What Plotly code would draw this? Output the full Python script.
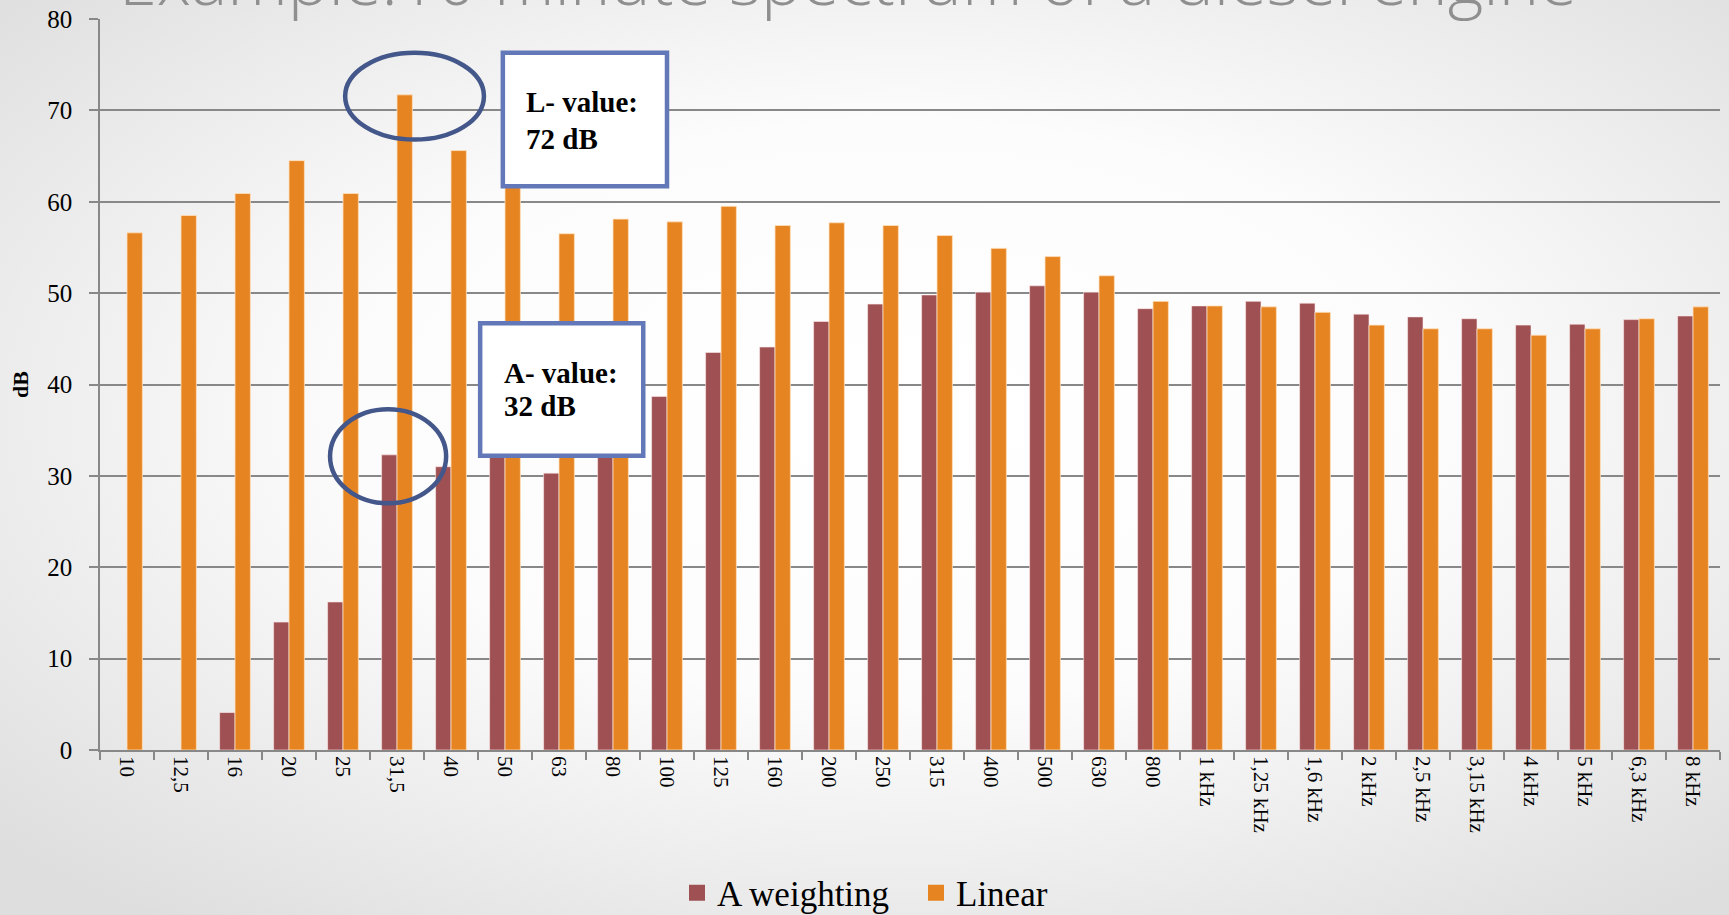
import base64
import plotly.graph_objects as go

categories = ["10", "12,5", "16", "20", "25", "31,5", "40", "50", "63", "80",
              "100", "125", "160", "200", "250", "315", "400", "500", "630", "800",
              "1 kHz", "1,25 kHz", "1,6 kHz", "2 kHz", "2,5 kHz", "3,15 kHz",
              "4 kHz", "5 kHz", "6,3 kHz", "8 kHz"]

a_weighting = [None, None, 4.1, 14.0, 16.2, 32.3, 31.0, 33.5, 30.3, 34.5,
               38.7, 43.5, 44.1, 46.9, 48.8, 49.8, 50.1, 50.8, 50.1, 48.3,
               48.6, 49.1, 48.9, 47.7, 47.4, 47.2, 46.5, 46.6, 47.1, 47.5]

linear = [56.6, 58.5, 60.9, 64.5, 60.9, 71.7, 65.6, 63.0, 56.5, 58.1,
          57.8, 59.5, 57.4, 57.7, 57.4, 56.3, 54.9, 54.0, 51.9, 49.1,
          48.6, 48.5, 47.9, 46.5, 46.1, 46.1, 45.4, 46.1, 47.2, 48.5]

y_ticks = [0, 10, 20, 30, 40, 50, 60, 70, 80]

title_text = "Example:10 minute spectrum of a diesel engine"
l_lines = ["<b>L- value:</b>", "<b>72 dB</b>"]
a_lines = ["<b>A- value:</b>", "<b>32 dB</b>"]

W, H = 1729, 915
ML, MR, MT, MB = 100, 9, 19, 165
PW, PH = W - ML - MR, H - MT - MB

SERIF = "Liberation Serif, Times New Roman, serif"
RED = "#9e5053"
ORANGE = "#e68422"

svg = ('<svg xmlns="http://www.w3.org/2000/svg" width="1729" height="915" '
       'preserveAspectRatio="none"><defs><radialGradient id="g" cx="52%" cy="45%" r="70%">'
       '<stop offset="0" stop-color="#ffffff"/><stop offset="0.45" stop-color="#fcfcfc"/>'
       '<stop offset="1" stop-color="#dedede"/></radialGradient></defs>'
       '<rect width="1729" height="915" fill="url(#g)"/></svg>')
bg_src = "data:image/svg+xml;base64," + base64.b64encode(svg.encode()).decode()

fig = go.Figure()
fig.add_trace(go.Bar(x=categories, y=a_weighting, name="A weighting", showlegend=False,
                     marker=dict(color=RED, line=dict(color="rgba(255,235,235,0.6)", width=1))))
fig.add_trace(go.Bar(x=categories, y=linear, name="Linear", showlegend=False,
                     marker=dict(color=ORANGE, line=dict(color="rgba(255,225,190,0.8)", width=1))))
# legend entries with larger square swatches
fig.add_trace(go.Scatter(x=[None], y=[None], mode="markers", name="A weighting",
                         marker=dict(symbol="square", size=20, color=RED)))
fig.add_trace(go.Scatter(x=[None], y=[None], mode="markers", name="Linear",
                         marker=dict(symbol="square", size=20, color=ORANGE)))

line_col = "#888888"
fig.update_layout(
    width=W, height=H,
    margin=dict(l=ML, r=MR, t=MT, b=MB, autoexpand=False),
    paper_bgcolor="#f2f2f2",
    plot_bgcolor="rgba(0,0,0,0)",
    barmode="group", bargap=0.43, bargroupgap=0,
    font=dict(family=SERIF, color="#000000"),
    xaxis=dict(type="category", tickangle=90, ticks="outside", tickson="boundaries",
               ticklen=8, tickcolor=line_col, tickwidth=1.5,
               showline=True, linecolor=line_col, linewidth=1.5,
               showgrid=False, tickfont=dict(family=SERIF, size=21, color="#000")),
    yaxis=dict(range=[0, 80], tickvals=y_ticks, ticks="outside", ticklen=9,
               tickcolor=line_col, tickwidth=1.5, showline=True, linecolor=line_col,
               linewidth=1.5, showgrid=True, gridcolor=line_col, gridwidth=1.8,
               zeroline=False, ticklabelstandoff=12,
               tickfont=dict(family=SERIF, size=25, color="#000"),
               title=dict(text="<b>dB</b>", standoff=13,
                          font=dict(family=SERIF, size=22, color="#000"))),
    legend=dict(orientation="h", x=(677 - ML) / PW, xanchor="left",
                y=(750 - 893) / PH, yanchor="middle", itemsizing="trace",
                entrywidth=194, entrywidthmode="pixels",
                font=dict(family=SERIF, size=35, color="#000"),
                bgcolor="rgba(0,0,0,0)"),
    images=[dict(source=bg_src, xref="paper", yref="paper",
                 x=-ML / PW, y=1 + MT / PH, sizex=W / PW, sizey=H / PH,
                 xanchor="left", yanchor="top", sizing="stretch", layer="below")],
    showlegend=True,
)

ell = dict(type="circle", xref="x", yref="y", layer="above",
           line=dict(color="#44578a", width=4.5), fillcolor="rgba(0,0,0,0)")
box = dict(type="rect", xref="x", yref="y", layer="above",
           line=dict(color="#6278b8", width=4.5), fillcolor="#ffffff")
fig.add_shape(**ell, x0=4.04, x1=6.61, y0=66.8, y1=76.3)
fig.add_shape(**ell, x0=3.76, x1=5.91, y0=27.0, y1=37.3)
fig.add_shape(**box, x0=6.96, x1=10.0, y0=61.7, y1=76.3)
fig.add_shape(**box, x0=6.54, x1=9.56, y0=32.2, y1=46.7)

note_font = dict(family=SERIF, size=29, color="#000")
for txt, yy in zip(l_lines, [70.9, 66.9]):
    fig.add_annotation(text=txt, x=7.36, y=yy, xref="x", yref="y",
                       xanchor="left", yanchor="middle", align="left", showarrow=False,
                       font=note_font)
for txt, yy in zip(a_lines, [41.3, 37.6]):
    fig.add_annotation(text=txt, x=6.94, y=yy, xref="x", yref="y",
                       xanchor="left", yanchor="middle", align="left", showarrow=False,
                       font=note_font)
fig.add_annotation(text=title_text, xref="paper", yref="paper",
                   x=(117 - ML) / PW, y=(750 - 27) / PH, xanchor="left", yanchor="bottom",
                   showarrow=False,
                   font=dict(family="Open Sans, sans-serif", size=68.5, color="#8f8f8f", weight=300))

fig.write_html("out.html", config={"displayModeBar": False},
               post_script="document.body.style.margin='0';document.body.style.overflow='hidden';")
